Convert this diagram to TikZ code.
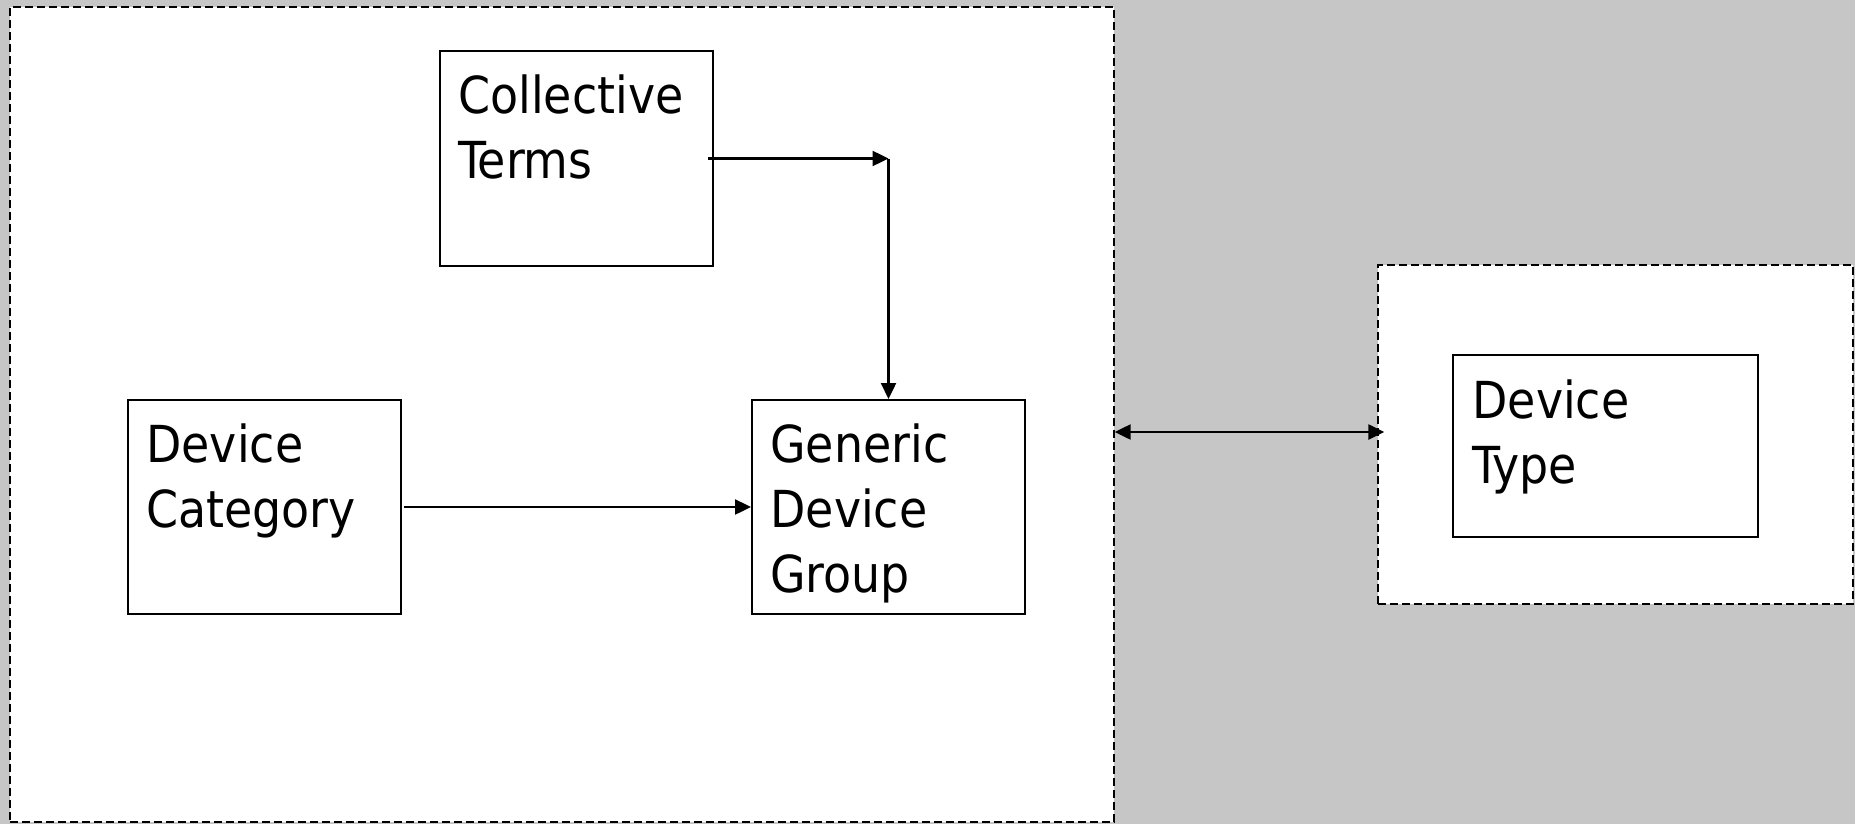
\documentclass[tikz,border=0pt]{standalone}
\usepackage{fontspec}
\setmainfont{DejaVu Sans Condensed}
\usepackage{tikz}
\usetikzlibrary{arrows.meta,positioning}
\definecolor{slidegray}{RGB}{198,198,198}
\tikzset{
  box/.style={draw, line width=1pt, fill=white, inner sep=0pt, minimum width=136.5pt, minimum height=107pt},
  grp/.style={draw, dash pattern=on 4pt off 2pt, line width=0.7pt, fill=white, inner sep=0pt},
  boxtext/.style={anchor=north west, inner sep=0pt, align=left, font=\fontsize{25.5}{32.5}\selectfont},
  arr/.style={line width=1.2pt, -{Triangle[length=8pt,width=7.5pt]}},
  dblarr/.style={line width=1.2pt, {Triangle[length=8pt,width=7.5pt]}-{Triangle[length=8pt,width=7.5pt]}},
}
\begin{document}
\begin{tikzpicture}[x=0.5pt,y=-0.5pt]
\useasboundingbox (0,0) rectangle (1855,824);
\fill[slidegray] (0,0) rectangle (1855,824);
% groups
\node[grp, minimum width=552pt, minimum height=407.5pt] (group) at (562,414.5) {};
\node[grp, minimum width=237.5pt, minimum height=169.5pt] (typegroup) at (1615.5,434.5) {};
% boxes
\node[box] (ct) at (576.5,158.5) {};
\node[box] (dc) at (264.5,507) {};
\node[box] (gdg) at (888.5,507) {};
\node[box, minimum width=152.5pt, minimum height=91pt] (dt) at (1605.5,446) {};
\node[boxtext] (ct-text) at ([shift={(9.5pt,-12pt)}]ct.north west) {Collective\\Terms};
\node[boxtext] (dc-text) at ([shift={(9.5pt,-12pt)}]dc.north west) {Device\\Category};
\node[boxtext] (gdg-text) at ([shift={(9.5pt,-12pt)}]gdg.north west) {Generic\\Device\\Group};
\node[boxtext] (dt-text) at ([shift={(10pt,-12.5pt)}]dt.north west) {Device\\Type};
% connectors
\coordinate (bend) at (gdg.north |- ct.east);
\draw[arr] ([xshift=-3pt]ct.east) -- (bend);
\draw[arr] (bend) -- (gdg.north);
\draw[arr] ([xshift=1pt]dc.east) -- (gdg.west);
\draw[dblarr] ([yshift=1.25pt]typegroup.west -| group.east) -- ([xshift=3.5pt,yshift=1.25pt]typegroup.west);
\end{tikzpicture}
\end{document}
